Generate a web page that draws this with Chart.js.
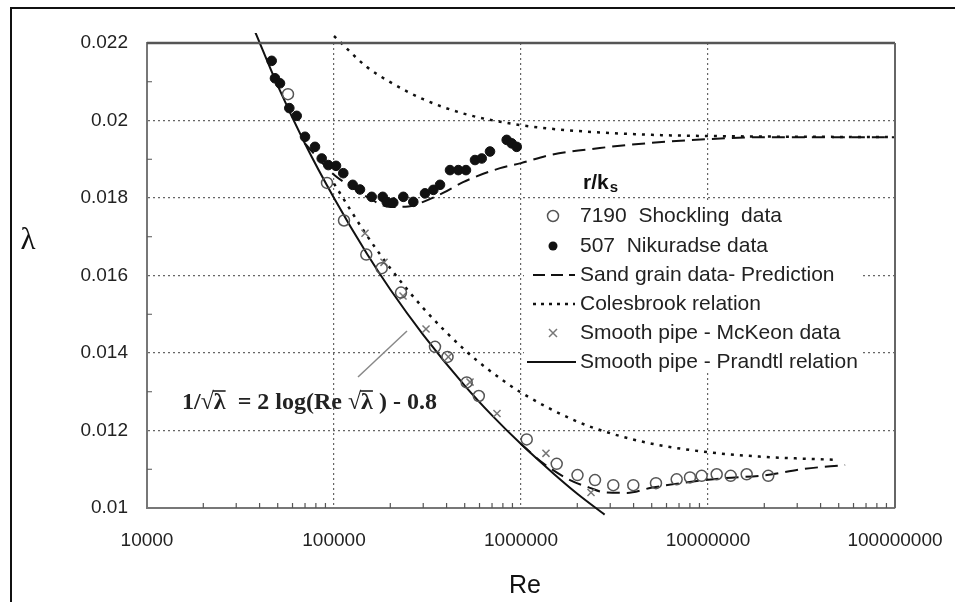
<!DOCTYPE html>
<html>
<head>
<meta charset="utf-8">
<script src="https://cdn.jsdelivr.net/npm/chart.js@4.4.1/dist/chart.umd.min.js"></script>
<style>
  html,body{margin:0;padding:0;background:#fff;}
  #wrap{width:955px;height:602px;}
</style>
</head>
<body>
<div id="wrap"><canvas id="chart" width="955" height="602"></canvas></div>
<script>
// --- Data ---
const xTicks = [1e4, 1e5, 1e6, 1e7, 1e8];
const yTicks = [0.01, 0.012, 0.014, 0.016, 0.018, 0.02, 0.022];

// r/ks = 7190, Shockling data (open circles)
const shocklingRe  = [56750, 91750, 113100, 148800, 179900, 228200, 346800, 404600, 512300, 594800, 1073000, 1552000, 2005000, 2487000, 3115000, 3986000, 5270000, 6800000, 8010000, 9250000, 11130000, 13220000, 16100000, 21000000];
const shocklingLam = [0.02068, 0.01839, 0.01742, 0.01654, 0.01619, 0.01556, 0.01416, 0.0139, 0.01324, 0.01289, 0.01177, 0.01114, 0.01085, 0.01072, 0.01059, 0.01059, 0.01064, 0.01074, 0.01079, 0.01083, 0.01087, 0.01083, 0.01087, 0.01083];

// r/ks = 507, Nikuradse data (filled dots)
const nikuradseRe  = [46430, 48340, 51420, 57680, 63170, 69980, 79130, 85950, 93210, 102500, 112100, 125900, 137700, 159100, 182200, 191300, 207500, 234800, 265500, 306600, 339700, 368900, 417200, 462100, 507800, 567500, 616600, 682700, 838500, 891500, 948500];
const nikuradseLam = [0.02154, 0.02109, 0.02096, 0.02032, 0.02012, 0.01958, 0.01932, 0.01902, 0.01885, 0.01883, 0.01864, 0.01834, 0.01822, 0.01803, 0.01803, 0.0179, 0.01788, 0.01803, 0.0179, 0.01812, 0.01821, 0.01834, 0.01872, 0.01872, 0.01872, 0.01898, 0.01902, 0.0192, 0.0195, 0.01941, 0.01932];

// Smooth pipe, McKeon data (crosses)
const mckeonRe  = [146500, 185100, 233900, 310500, 408500, 533800, 744000, 1360000, 2368000];
const mckeonLam = [0.01709, 0.01634, 0.01547, 0.01462, 0.0139, 0.01325, 0.01244, 0.01141, 0.0104];

// Smooth pipe, Prandtl relation (solid)
const prandtlRe  = [38000, 50000, 70000, 100000, 150000, 200000, 300000, 500000, 700000, 1000000, 1500000, 2000000, 2800000];
const prandtlLam = [0.02227, 0.0209, 0.0194, 0.018, 0.01656, 0.01564, 0.01447, 0.01316, 0.01239, 0.01165, 0.01088, 0.01037, 0.00983];

// Colebrook relation (dotted), r/ks = 507 and 7190
const cbUpperRe  = [100000, 150000, 200000, 300000, 500000, 1000000, 2000000, 5000000, 10000000, 100000000];
const cbUpperLam = [0.02218, 0.02138, 0.02099, 0.02055, 0.02017, 0.01988, 0.01973, 0.01963, 0.0196, 0.01957];
const cbLowerRe  = [100000, 150000, 200000, 300000, 500000, 700000, 1000000, 2000000, 3000000, 5000000, 10000000, 20000000, 50000000];
const cbLowerLam = [0.01837, 0.01703, 0.01619, 0.01516, 0.01408, 0.0135, 0.01298, 0.01223, 0.01193, 0.01166, 0.01144, 0.01132, 0.01124];

// Sand grain prediction (dashed), r/ks = 507 and 7190
const sgUpperRe  = [70000, 100000, 125000, 150000, 200000, 250000, 300000, 383000, 490000, 773000, 1000000, 1430000, 2640000, 4900000, 10000000, 20700000, 100000000];
const sgUpperLam = [0.0194, 0.0186, 0.01828, 0.01803, 0.01777, 0.01778, 0.0179, 0.01813, 0.01841, 0.01877, 0.0189, 0.01911, 0.01929, 0.01942, 0.01952, 0.01957, 0.01957];
const sgLowerRe  = [1000000, 1310000, 1830000, 2340000, 2750000, 3690000, 4960000, 7350000, 12300000, 20700000, 31400000, 54100000];
const sgLowerLam = [0.01165, 0.01116, 0.01072, 0.01052, 0.01041, 0.01039, 0.01052, 0.01065, 0.01077, 0.01085, 0.011, 0.01111];

const legendTitle = 'r/k';
const legendLabels = ['7190  Shockling  data', '507  Nikuradse data', 'Sand grain data- Prediction', 'Colesbrook relation', 'Smooth pipe - McKeon data', 'Smooth pipe - Prandtl relation'];
const formulaText = '1/\u221A\u03BB  = 2 log(Re \u221A\u03BB ) - 0.8';

const pts = (xs, ys) => xs.map((x, i) => ({x, y: ys[i]}));

Chart.defaults.font.family = '"Liberation Sans", Arial, sans-serif';
Chart.defaults.color = '#222';

function lineSet(data, dash, width, extra){
  return Object.assign({
    data, showLine:true, pointRadius:0, pointHoverRadius:0, fill:false,
    borderColor:'#111', borderWidth:width, borderDash:dash,
    cubicInterpolationMode:'monotone', order:5
  }, extra||{});
}

// --- Decorations: frame, minor ticks, legend, labels, formula ---
const decor = {
  id:'decor',
  afterDraw(chart){
    const {ctx, chartArea:a, scales:{x, y}} = chart;
    ctx.save();

    // outer frame
    ctx.strokeStyle = '#111'; ctx.lineWidth = 2;
    ctx.beginPath(); ctx.moveTo(11, 602); ctx.lineTo(11, 8); ctx.lineTo(955, 8); ctx.stroke();

    // top and right edge of plot
    ctx.strokeStyle = '#555'; ctx.lineWidth = 2.5;
    ctx.beginPath(); ctx.moveTo(a.left, a.top); ctx.lineTo(a.right, a.top); ctx.stroke();
    ctx.lineWidth = 2; ctx.strokeStyle = '#666';
    ctx.beginPath(); ctx.moveTo(a.right, a.top); ctx.lineTo(a.right, a.bottom); ctx.stroke();

    // minor ticks
    ctx.lineWidth = 1.2; ctx.strokeStyle = '#555';
    ctx.beginPath();
    for (let d = 1e4; d < 1e8; d *= 10) {
      for (let m = 2; m <= 9; m++) {
        const px = x.getPixelForValue(m * d);
        ctx.moveTo(px, a.bottom); ctx.lineTo(px, a.bottom - 5);
      }
    }
    for (let i = 0; i < yTicks.length - 1; i++) {
      const py = y.getPixelForValue((yTicks[i] + yTicks[i + 1]) / 2);
      ctx.moveTo(a.left, py); ctx.lineTo(a.left + 5, py);
    }
    ctx.stroke();

    // axis titles
    ctx.fillStyle = '#111';
    ctx.textAlign = 'center'; ctx.textBaseline = 'middle';
    ctx.font = '31px "Liberation Serif", serif';
    ctx.fillText('\u03BB', 28, 241);
    ctx.font = '25px "Liberation Sans", Arial, sans-serif';
    ctx.fillText('Re', 525, 586);

    // formula with pointer line
    ctx.strokeStyle = '#888'; ctx.lineWidth = 1.5; ctx.setLineDash([]);
    ctx.beginPath(); ctx.moveTo(358, 377); ctx.lineTo(407, 331); ctx.stroke();
    ctx.font = 'bold 24px "Liberation Serif", serif';
    ctx.textAlign = 'left'; ctx.fillStyle = '#222';
    const fx = 182, fy = 403;
    ctx.fillText(formulaText, fx, fy);
    ctx.strokeStyle = '#222'; ctx.lineWidth = 1.6;
    let idx = formulaText.indexOf('\u221A');
    while (idx >= 0) {
      const x0 = fx + ctx.measureText(formulaText.slice(0, idx + 1)).width - 1;
      const x1 = fx + ctx.measureText(formulaText.slice(0, idx + 2)).width;
      ctx.beginPath(); ctx.moveTo(x0, fy - 12); ctx.lineTo(x1, fy - 12); ctx.stroke();
      idx = formulaText.indexOf('\u221A', idx + 1);
    }

    // legend
    ctx.fillStyle = '#fff';
    ctx.fillRect(524, 201, 338, 172);
    ctx.fillStyle = '#111';
    ctx.font = 'bold 21px "Liberation Sans", Arial, sans-serif';
    ctx.textBaseline = 'middle';
    ctx.fillText(legendTitle, 583, 183);
    const tw = ctx.measureText(legendTitle).width;
    ctx.font = 'bold 15px "Liberation Sans", Arial, sans-serif';
    ctx.fillText('s', 583 + tw + 1, 188);

    const rows = [216, 246, 275, 304, 333, 362];
    ctx.font = '21px "Liberation Sans", Arial, sans-serif';
    ctx.fillStyle = '#222';
    legendLabels.forEach((t, i) => ctx.fillText(t, 580, rows[i]));

    ctx.strokeStyle = '#555'; ctx.lineWidth = 1.5;
    ctx.beginPath(); ctx.arc(553, rows[0], 5.5, 0, Math.PI * 2); ctx.stroke();
    ctx.fillStyle = '#111';
    ctx.beginPath(); ctx.arc(553, rows[1], 4.5, 0, Math.PI * 2); ctx.fill();
    ctx.strokeStyle = '#111'; ctx.lineWidth = 2;
    ctx.setLineDash([12, 6]);
    ctx.beginPath(); ctx.moveTo(533, rows[2]); ctx.lineTo(575, rows[2]); ctx.stroke();
    ctx.setLineDash([3, 5]); ctx.lineWidth = 2.5;
    ctx.beginPath(); ctx.moveTo(533, rows[3]); ctx.lineTo(575, rows[3]); ctx.stroke();
    ctx.setLineDash([]);
    ctx.strokeStyle = '#777'; ctx.lineWidth = 1.5;
    ctx.beginPath();
    ctx.moveTo(549, rows[4] - 4); ctx.lineTo(557, rows[4] + 4);
    ctx.moveTo(557, rows[4] - 4); ctx.lineTo(549, rows[4] + 4);
    ctx.stroke();
    ctx.strokeStyle = '#111'; ctx.lineWidth = 2;
    ctx.beginPath(); ctx.moveTo(527, rows[5]); ctx.lineTo(576, rows[5]); ctx.stroke();

    ctx.restore();
  }
};

const edgeClip = {left:0, right:0, top:10, bottom:8};

new Chart(document.getElementById('chart'), {
  type:'scatter',
  data:{
    datasets:[
      {data:pts(nikuradseRe, nikuradseLam), pointStyle:'circle', pointRadius:4.8, backgroundColor:'#111', borderColor:'#111', borderWidth:1, order:0},
      {data:pts(shocklingRe, shocklingLam), pointStyle:'circle', pointRadius:5.5, backgroundColor:'rgba(255,255,255,0)', borderColor:'#555', borderWidth:1.5, order:1},
      {data:pts(mckeonRe, mckeonLam), pointStyle:'crossRot', pointRadius:5, borderColor:'#777', borderWidth:1.5, order:2},
      lineSet(pts(prandtlRe, prandtlLam), [], 2, {clip:edgeClip}),
      lineSet(pts(cbUpperRe, cbUpperLam), [3, 6], 2.5, {clip:edgeClip}),
      lineSet(pts(cbLowerRe, cbLowerLam), [3, 6], 2.5),
      lineSet(pts(sgUpperRe, sgUpperLam), [13, 7], 2),
      lineSet(pts(sgLowerRe, sgLowerLam), [13, 7], 2)
    ]
  },
  options:{
    responsive:false,
    devicePixelRatio:1,
    animation:false,
    layout:{padding:{left:0, top:43, right:60, bottom:0}},
    plugins:{legend:{display:false}, tooltip:{enabled:false}},
    scales:{
      x:{
        type:'logarithmic', min:1e4, max:1e8,
        afterBuildTicks:s => { s.ticks = xTicks.map(v => ({value:v})); },
        afterFit:s => { s.height = 94; s.paddingRight = 0; s.paddingLeft = 0; },
        ticks:{autoSkip:false, maxRotation:0, padding:21, color:'#222', font:{size:19}, callback:v => String(v)},
        grid:{color:'#666', lineWidth:1.2, drawTicks:false},
        border:{display:true, color:'#777', width:2, dash:[2, 3]}
      },
      y:{
        type:'linear', min:0.01, max:0.022,
        afterBuildTicks:s => { s.ticks = yTicks.map(v => ({value:v})); },
        afterFit:s => { s.width = 147; },
        ticks:{autoSkip:false, padding:19, color:'#222', font:{size:19}, callback:v => String(v)},
        grid:{color:'#666', lineWidth:1.2, drawTicks:false},
        border:{display:true, color:'#777', width:2, dash:[2, 3]}
      }
    }
  },
  plugins:[decor]
});
</script>
</body>
</html>
